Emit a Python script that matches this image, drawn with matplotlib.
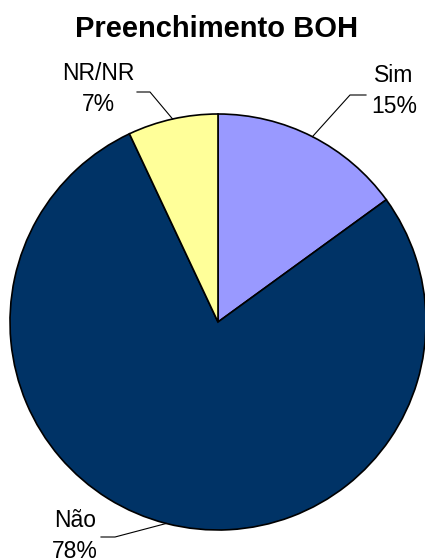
import numpy as np
import matplotlib.pyplot as plt

plt.rcParams['font.family'] = ['Liberation Sans', 'DejaVu Sans']

title = "Preenchimento BOH"
labels = ["Sim", "Não", "NR/NR"]
shares = [15, 78, 7]
colors = ["#9999FF", "#003366", "#FFFF99"]

# label layout: (elbow x, elbow y, line end x, text x, text y) in pixels, y from top
label_pos = {
    "Sim": (350, 95, 366, 394, 91),
    "NR/NR": (150, 92, 137, 98, 89),
    "Não": (115, 537, 101, 75, 536),
}

W, H = 425, 560
cx, cy, r = 218, 322, 208

fig = plt.figure(figsize=(W / 100, H / 100), dpi=100)
ax = fig.add_axes([0, 0, 1, 1])

wedges, _ = ax.pie(
    shares, colors=colors, startangle=90, counterclock=False,
    center=(cx, H - cy), radius=r, frame=True,
    wedgeprops=dict(edgecolor="black", linewidth=1.2),
)
ax.set_xlim(0, W)
ax.set_ylim(0, H)
ax.set_aspect("equal")
ax.axis("off")

total = sum(shares)
for w, lab, val in zip(wedges, labels, shares):
    mid = np.deg2rad((w.theta1 + w.theta2) / 2)
    x0 = cx + r * np.cos(mid)
    y0 = (H - cy) + r * np.sin(mid)
    ex, ey, lx, tx, ty = label_pos[lab]
    ax.plot([x0, ex, lx], [y0, H - ey, H - ey], color="black", lw=0.8)
    ax.text(tx, H - ty, f"{lab}\n{round(100 * val / total)}%", ha="center",
            va="center", fontsize=16.5, linespacing=1.45)

fig.text(217 / W, 1 - 37 / H, title, ha="center", va="baseline",
         fontsize=21, fontweight="bold")

fig.savefig("out.png", dpi=100)
